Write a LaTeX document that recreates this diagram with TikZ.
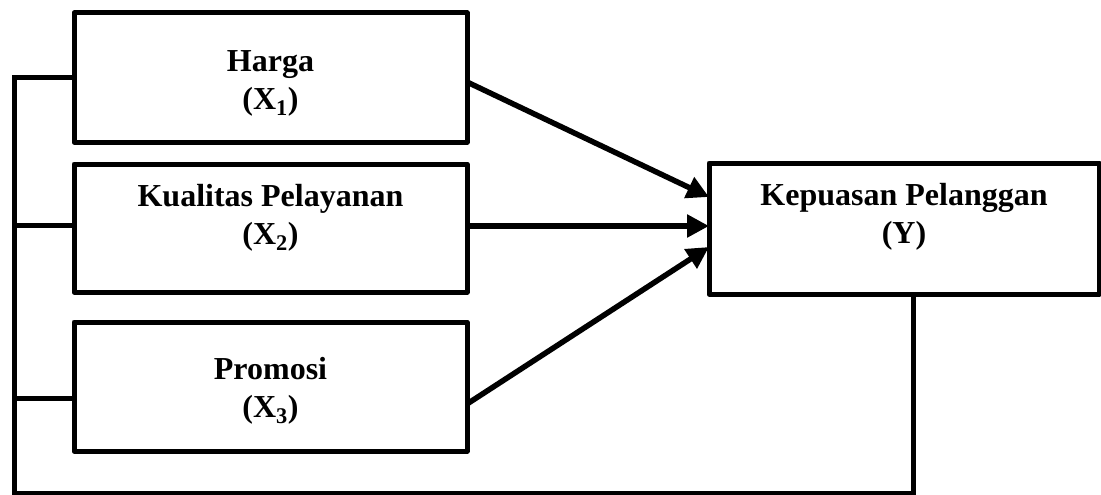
\documentclass[tikz,border=0pt]{standalone}
\usepackage{fontspec}
\setmainfont{Liberation Serif}
\usetikzlibrary{arrows.meta}
\begin{document}
\begin{tikzpicture}[x=1pt,y=-1pt,
  varbox/.style={draw=black, line width=5pt, line join=round, rectangle, inner sep=0pt, outer sep=0pt},
  lbl/.style={align=center, inner sep=0pt, font=\fontsize{32}{38}\selectfont\bfseries},
  arr/.style={line width=5.5pt, -{Triangle[length=22pt,width=22pt]}},
  bus/.style={line width=5pt, line join=miter}
]
\useasboundingbox (0,0) rectangle (1101,495);

\node[varbox, minimum width=393pt, minimum height=129pt] (x1) at (270.5,77.5) {};
\node[varbox, minimum width=393pt, minimum height=128pt] (x2) at (270.5,228) {};
\node[varbox, minimum width=393pt, minimum height=129pt] (x3) at (270.5,386.5) {};
\node[varbox, minimum width=390pt, minimum height=131pt] (y) at (904,228.5) {};

\node[lbl] (t1) at (270.5,83) {Harga\\(X\textsubscript{1})};
\node[lbl] (t2) at (270.5,218) {Kualitas Pelayanan\\(X\textsubscript{2})};
\node[lbl] (t3) at (270.5,391) {Promosi\\(X\textsubscript{3})};
\node[lbl] (ty) at (904,217) {Kepuasan Pelanggan\\(Y)};

% arrows
\coordinate (s1) at (467,82);
\coordinate (s2) at (467,226);
\coordinate (s3) at (467,404);
\coordinate (e1) at (709,197);
\coordinate (e2) at (709,226);
\coordinate (e3) at (709,247);
\draw[arr] (s1) -- (e1);
\draw[arr] (s2) -- (e2);
\draw[arr] (s3) -- (e3);

% feedback bus
\coordinate (yb) at (913,294);
\coordinate (b1) at (14.5,78);
\coordinate (b2) at (14.5,225);
\coordinate (b3) at (14.5,398);
\coordinate (l1) at (74,78);
\coordinate (l2) at (74,225);
\coordinate (l3) at (74,398);
\coordinate (bot) at (913,493);
\draw[bus] (yb) -- (bot) -| (b1) -- (l1);
\draw[bus] (b2) -- (l2);
\draw[bus] (b3) -- (l3);
\end{tikzpicture}
\end{document}
